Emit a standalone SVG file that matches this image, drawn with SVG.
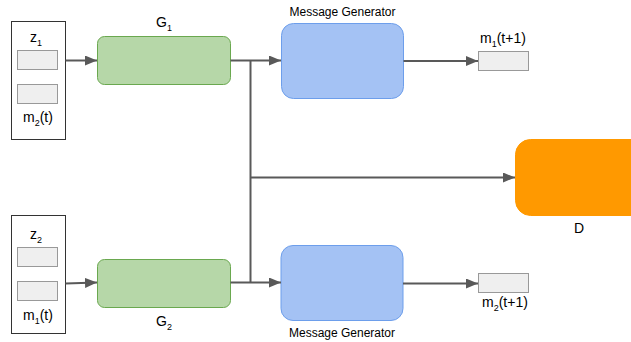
<svg xmlns="http://www.w3.org/2000/svg" width="631" height="342" viewBox="0 0 631 342">
<defs>
<marker id="ah" viewBox="0 0 12 10" refX="12" refY="5" markerWidth="12" markerHeight="10" markerUnits="userSpaceOnUse" orient="auto">
<path d="M0,0 L12,5 L0,10 Z" fill="#595959"/>
</marker>
</defs>
<style>
text{font-family:"Liberation Sans",Arial,sans-serif;fill:#000;}
.lbl{font-size:14px;}
.sub{font-size:9px;}
.mg{font-size:12px;}
.frame{fill:#fff;stroke:#333;stroke-width:1;}
.slot{fill:#efefef;stroke:#999;stroke-width:1;}
.g{fill:#b6d7a8;stroke:#6aa84f;stroke-width:1;}
.m{fill:#a4c2f4;stroke:#6d9eeb;stroke-width:1;}
.d{fill:#ff9900;stroke:#ff9900;stroke-width:1;}
.c{fill:none;stroke:#595959;stroke-width:2;}
</style>
<rect width="631" height="342" fill="#fff"/>
<g id="input1">
<rect class="frame" x="11.5" y="21.5" width="54" height="118"/>
<rect class="slot" x="17.5" y="50.5" width="40" height="19"/>
<rect class="slot" x="17.5" y="84.5" width="40" height="19"/>
<text class="lbl" x="30" y="42">z<tspan class="sub" dy="4">1</tspan></text>
<text class="lbl" x="23" y="122">m<tspan class="sub" dy="4">2</tspan><tspan dy="-4">(t)</tspan></text>
</g>
<g id="input2">
<rect class="frame" x="11.5" y="215.5" width="54" height="118"/>
<rect class="slot" x="17.5" y="247.5" width="40" height="19"/>
<rect class="slot" x="17.5" y="281.5" width="40" height="19"/>
<text class="lbl" x="30" y="239">z<tspan class="sub" dy="4">2</tspan></text>
<text class="lbl" x="23" y="320">m<tspan class="sub" dy="4">1</tspan><tspan dy="-4">(t)</tspan></text>
</g>
<g id="G1">
<rect class="g" x="97.5" y="36.5" width="133" height="48" rx="7"/>
<text class="lbl" x="156" y="27">G<tspan class="sub" dy="4">1</tspan></text>
</g>
<g id="G2">
<rect class="g" x="97.5" y="259.5" width="133" height="48" rx="7"/>
<text class="lbl" x="156" y="326">G<tspan class="sub" dy="4">2</tspan></text>
</g>
<g id="MG1">
<rect class="m" x="281.5" y="23.5" width="122" height="75" rx="12"/>
<text class="mg" x="342.5" y="16" text-anchor="middle">Message Generator</text>
</g>
<g id="MG2">
<rect class="m" x="281" y="245.5" width="122" height="75" rx="12"/>
<text class="mg" x="342" y="337" text-anchor="middle">Message Generator</text>
</g>
<g id="out1">
<rect class="slot" x="478.5" y="51.5" width="50" height="19"/>
<text class="lbl" x="480" y="43">m<tspan class="sub" dy="4">1</tspan><tspan dy="-4">(t+1)</tspan></text>
</g>
<g id="out2">
<rect class="slot" x="478.5" y="273.5" width="50" height="19"/>
<text class="lbl" x="482" y="307">m<tspan class="sub" dy="4">2</tspan><tspan dy="-4">(t+1)</tspan></text>
</g>
<g id="D">
<rect class="d" x="515.5" y="139.5" width="140" height="76" rx="15"/>
<text class="lbl" x="579" y="233" text-anchor="middle">D</text>
</g>
<g id="connectors">
<path class="c" d="M65.5,60.5 L97,60.5" marker-end="url(#ah)"/>
<path class="c" d="M65.5,283.5 L97,282.5" marker-end="url(#ah)"/>
<path class="c" d="M230.5,60.5 L281,60.5" marker-end="url(#ah)"/>
<path class="c" d="M230.5,282.5 L281,282.5" marker-end="url(#ah)"/>
<path class="c" d="M250.5,60.5 L250.5,282.5"/>
<path class="c" d="M250.5,177.5 L515,177.5" marker-end="url(#ah)"/>
<path class="c" d="M403.5,61 L478,61" marker-end="url(#ah)"/>
<path class="c" d="M403,283.5 L478,283.5" marker-end="url(#ah)"/>
</g>
</svg>
